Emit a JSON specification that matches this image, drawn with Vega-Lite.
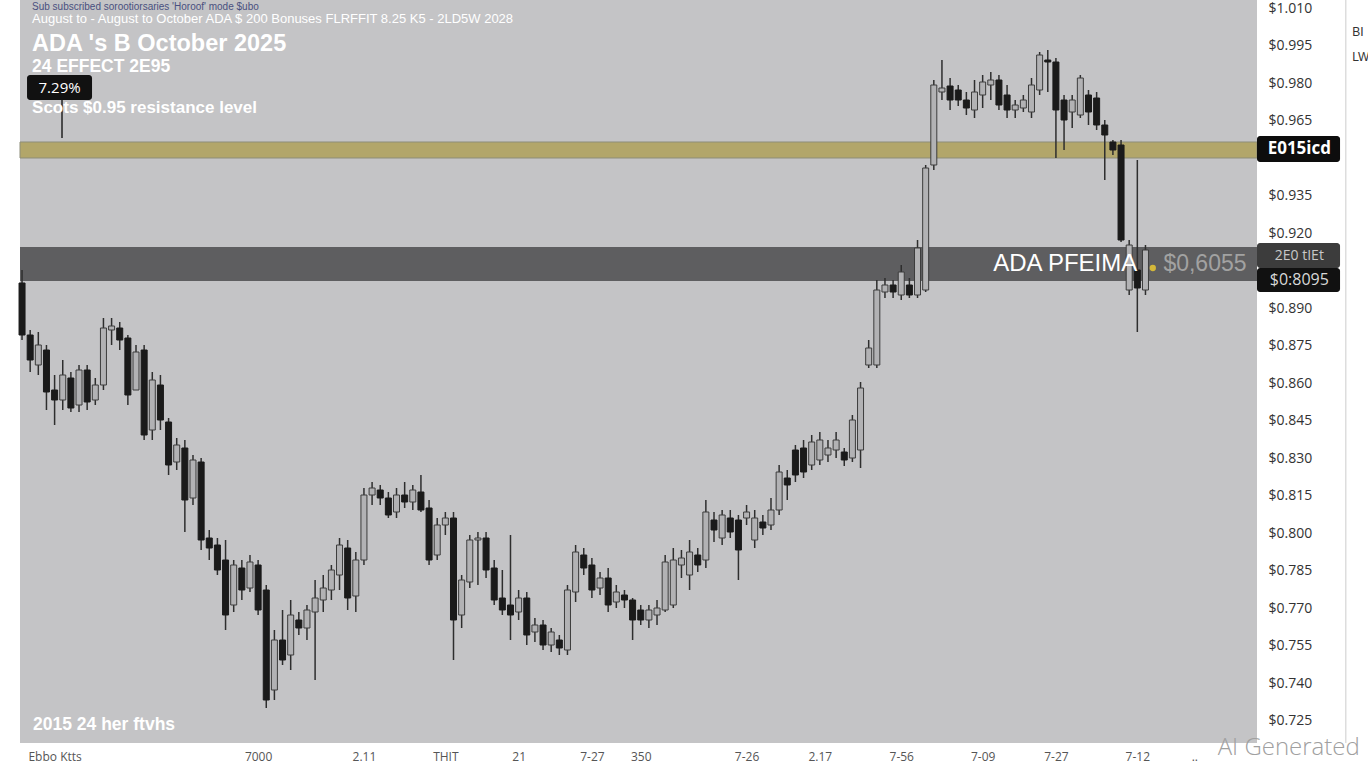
{
  "$schema": "https://vega.github.io/schema/vega-lite/v6.json",
  "width": 1237,
  "height": 743,
  "autosize": {"type": "none"},
  "padding": {"left": 20, "top": 0, "right": 111, "bottom": 25},
  "background": "#ffffff",
  "config": {
    "view": {"stroke": null, "fill": "#c4c4c6"},
    "font": "Open Sans",
    "scale": {"continuousPadding": 0},
    "axis": {"grid": false, "ticks": false, "domain": false, "labelOverlap": false, "labelBound": false, "labelFlush": false, "tickCount": 40}
  },
  "datasets": {
    "candles": [
      {"i":0,"o":0.9000,"h":0.9052,"l":0.8772,"c":0.8792},
      {"i":1,"o":0.8792,"h":0.8812,"l":0.8644,"c":0.8692},
      {"i":2,"o":0.8672,"h":0.8804,"l":0.8632,"c":0.8752},
      {"i":3,"o":0.8732,"h":0.8752,"l":0.8492,"c":0.8564},
      {"i":4,"o":0.8572,"h":0.8632,"l":0.8432,"c":0.8532},
      {"i":5,"o":0.8532,"h":0.8692,"l":0.8492,"c":0.8632},
      {"i":6,"o":0.8620,"h":0.8644,"l":0.8484,"c":0.8500},
      {"i":7,"o":0.8512,"h":0.8672,"l":0.8484,"c":0.8652},
      {"i":8,"o":0.8652,"h":0.8672,"l":0.8492,"c":0.8524},
      {"i":9,"o":0.8532,"h":0.8620,"l":0.8512,"c":0.8592},
      {"i":10,"o":0.8592,"h":0.8860,"l":0.8572,"c":0.8820},
      {"i":11,"o":0.8812,"h":0.8860,"l":0.8752,"c":0.8828},
      {"i":12,"o":0.8820,"h":0.8844,"l":0.8732,"c":0.8772},
      {"i":13,"o":0.8780,"h":0.8792,"l":0.8512,"c":0.8552},
      {"i":14,"o":0.8572,"h":0.8752,"l":0.8604,"c":0.8724},
      {"i":15,"o":0.8732,"h":0.8752,"l":0.8372,"c":0.8392},
      {"i":16,"o":0.8412,"h":0.8644,"l":0.8372,"c":0.8612},
      {"i":17,"o":0.8592,"h":0.8632,"l":0.8412,"c":0.8452},
      {"i":18,"o":0.8444,"h":0.8460,"l":0.8232,"c":0.8272},
      {"i":19,"o":0.8284,"h":0.8380,"l":0.8252,"c":0.8352},
      {"i":20,"o":0.8340,"h":0.8372,"l":0.8004,"c":0.8132},
      {"i":21,"o":0.8140,"h":0.8312,"l":0.8112,"c":0.8292},
      {"i":22,"o":0.8284,"h":0.8300,"l":0.7932,"c":0.7972},
      {"i":23,"o":0.7980,"h":0.8012,"l":0.7892,"c":0.7940},
      {"i":24,"o":0.7952,"h":0.7980,"l":0.7832,"c":0.7852},
      {"i":25,"o":0.7892,"h":0.7972,"l":0.7612,"c":0.7672},
      {"i":26,"o":0.7712,"h":0.7892,"l":0.7684,"c":0.7872},
      {"i":27,"o":0.7860,"h":0.7892,"l":0.7732,"c":0.7772},
      {"i":28,"o":0.7780,"h":0.7912,"l":0.7764,"c":0.7884},
      {"i":29,"o":0.7872,"h":0.7892,"l":0.7672,"c":0.7692},
      {"i":30,"o":0.7772,"h":0.7792,"l":0.7300,"c":0.7332},
      {"i":31,"o":0.7372,"h":0.7612,"l":0.7332,"c":0.7572},
      {"i":32,"o":0.7572,"h":0.7692,"l":0.7472,"c":0.7492},
      {"i":33,"o":0.7512,"h":0.7732,"l":0.7452,"c":0.7672},
      {"i":34,"o":0.7652,"h":0.7684,"l":0.7592,"c":0.7620},
      {"i":35,"o":0.7620,"h":0.7712,"l":0.7572,"c":0.7692},
      {"i":36,"o":0.7684,"h":0.7812,"l":0.7412,"c":0.7740},
      {"i":37,"o":0.7732,"h":0.7832,"l":0.7684,"c":0.7780},
      {"i":38,"o":0.7772,"h":0.7872,"l":0.7732,"c":0.7852},
      {"i":39,"o":0.7832,"h":0.7980,"l":0.7772,"c":0.7952},
      {"i":40,"o":0.7940,"h":0.7972,"l":0.7692,"c":0.7740},
      {"i":41,"o":0.7748,"h":0.7924,"l":0.7684,"c":0.7892},
      {"i":42,"o":0.7892,"h":0.8180,"l":0.7872,"c":0.8152},
      {"i":43,"o":0.8152,"h":0.8204,"l":0.8112,"c":0.8180},
      {"i":44,"o":0.8172,"h":0.8192,"l":0.8112,"c":0.8140},
      {"i":45,"o":0.8140,"h":0.8164,"l":0.8060,"c":0.8072},
      {"i":46,"o":0.8084,"h":0.8180,"l":0.8060,"c":0.8152},
      {"i":47,"o":0.8152,"h":0.8204,"l":0.8100,"c":0.8124},
      {"i":48,"o":0.8124,"h":0.8192,"l":0.8092,"c":0.8172},
      {"i":49,"o":0.8164,"h":0.8232,"l":0.8084,"c":0.8092},
      {"i":50,"o":0.8100,"h":0.8132,"l":0.7872,"c":0.7892},
      {"i":51,"o":0.7912,"h":0.8060,"l":0.7892,"c":0.8032},
      {"i":52,"o":0.8032,"h":0.8084,"l":0.7992,"c":0.8060},
      {"i":53,"o":0.8060,"h":0.8084,"l":0.7492,"c":0.7652},
      {"i":54,"o":0.7672,"h":0.7832,"l":0.7620,"c":0.7812},
      {"i":55,"o":0.7804,"h":0.7992,"l":0.7780,"c":0.7972},
      {"i":56,"o":0.7972,"h":0.8004,"l":0.7792,"c":0.7980},
      {"i":57,"o":0.7980,"h":0.8004,"l":0.7820,"c":0.7852},
      {"i":58,"o":0.7860,"h":0.7892,"l":0.7712,"c":0.7732},
      {"i":59,"o":0.7740,"h":0.7852,"l":0.7672,"c":0.7692},
      {"i":60,"o":0.7712,"h":0.7992,"l":0.7572,"c":0.7672},
      {"i":61,"o":0.7684,"h":0.7772,"l":0.7652,"c":0.7740},
      {"i":62,"o":0.7740,"h":0.7764,"l":0.7552,"c":0.7592},
      {"i":63,"o":0.7604,"h":0.7660,"l":0.7564,"c":0.7632},
      {"i":64,"o":0.7632,"h":0.7652,"l":0.7532,"c":0.7552},
      {"i":65,"o":0.7552,"h":0.7620,"l":0.7524,"c":0.7604},
      {"i":66,"o":0.7572,"h":0.7592,"l":0.7512,"c":0.7540},
      {"i":67,"o":0.7532,"h":0.7792,"l":0.7512,"c":0.7772},
      {"i":68,"o":0.7764,"h":0.7952,"l":0.7724,"c":0.7924},
      {"i":69,"o":0.7912,"h":0.7940,"l":0.7832,"c":0.7860},
      {"i":70,"o":0.7872,"h":0.7900,"l":0.7740,"c":0.7772},
      {"i":71,"o":0.7780,"h":0.7844,"l":0.7752,"c":0.7820},
      {"i":72,"o":0.7820,"h":0.7860,"l":0.7684,"c":0.7712},
      {"i":73,"o":0.7724,"h":0.7792,"l":0.7700,"c":0.7764},
      {"i":74,"o":0.7752,"h":0.7772,"l":0.7700,"c":0.7732},
      {"i":75,"o":0.7732,"h":0.7740,"l":0.7572,"c":0.7652},
      {"i":76,"o":0.7692,"h":0.7712,"l":0.7632,"c":0.7652},
      {"i":77,"o":0.7652,"h":0.7712,"l":0.7620,"c":0.7692},
      {"i":78,"o":0.7672,"h":0.7732,"l":0.7632,"c":0.7700},
      {"i":79,"o":0.7692,"h":0.7912,"l":0.7684,"c":0.7884},
      {"i":80,"o":0.7712,"h":0.7940,"l":0.7700,"c":0.7892},
      {"i":81,"o":0.7872,"h":0.7932,"l":0.7820,"c":0.7900},
      {"i":82,"o":0.7832,"h":0.7972,"l":0.7772,"c":0.7924},
      {"i":83,"o":0.7912,"h":0.7940,"l":0.7844,"c":0.7872},
      {"i":84,"o":0.7892,"h":0.8132,"l":0.7860,"c":0.8084},
      {"i":85,"o":0.8052,"h":0.8084,"l":0.7964,"c":0.8012},
      {"i":86,"o":0.7980,"h":0.8092,"l":0.7952,"c":0.8072},
      {"i":87,"o":0.8060,"h":0.8092,"l":0.7980,"c":0.8004},
      {"i":88,"o":0.8052,"h":0.8072,"l":0.7812,"c":0.7932},
      {"i":89,"o":0.8060,"h":0.8112,"l":0.8032,"c":0.8084},
      {"i":90,"o":0.7972,"h":0.8092,"l":0.7940,"c":0.8060},
      {"i":91,"o":0.8044,"h":0.8072,"l":0.7992,"c":0.8020},
      {"i":92,"o":0.8032,"h":0.8140,"l":0.8012,"c":0.8092},
      {"i":93,"o":0.8092,"h":0.8272,"l":0.8072,"c":0.8244},
      {"i":94,"o":0.8220,"h":0.8252,"l":0.8132,"c":0.8192},
      {"i":95,"o":0.8332,"h":0.8352,"l":0.8204,"c":0.8232},
      {"i":96,"o":0.8340,"h":0.8372,"l":0.8220,"c":0.8244},
      {"i":97,"o":0.8272,"h":0.8392,"l":0.8252,"c":0.8364},
      {"i":98,"o":0.8292,"h":0.8404,"l":0.8272,"c":0.8372},
      {"i":99,"o":0.8312,"h":0.8372,"l":0.8284,"c":0.8340},
      {"i":100,"o":0.8332,"h":0.8404,"l":0.8300,"c":0.8372},
      {"i":101,"o":0.8324,"h":0.8340,"l":0.8268,"c":0.8292},
      {"i":102,"o":0.8300,"h":0.8472,"l":0.8284,"c":0.8452},
      {"i":103,"o":0.8332,"h":0.8604,"l":0.8260,"c":0.8580},
      {"i":104,"o":0.8672,"h":0.8772,"l":0.8660,"c":0.8740},
      {"i":105,"o":0.8672,"h":0.9012,"l":0.8660,"c":0.8972},
      {"i":106,"o":0.8964,"h":0.9020,"l":0.8940,"c":0.8992},
      {"i":107,"o":0.8992,"h":0.9012,"l":0.8940,"c":0.8964},
      {"i":108,"o":0.8952,"h":0.9072,"l":0.8932,"c":0.9044},
      {"i":109,"o":0.8992,"h":0.9020,"l":0.8940,"c":0.8952},
      {"i":110,"o":0.8952,"h":0.9172,"l":0.8940,"c":0.9140},
      {"i":111,"o":0.8972,"h":0.9472,"l":0.8964,"c":0.9460},
      {"i":112,"o":0.9472,"h":0.9812,"l":0.9452,"c":0.9792},
      {"i":113,"o":0.9764,"h":0.9892,"l":0.9732,"c":0.9780},
      {"i":114,"o":0.9788,"h":0.9820,"l":0.9692,"c":0.9732},
      {"i":115,"o":0.9772,"h":0.9792,"l":0.9708,"c":0.9732},
      {"i":116,"o":0.9732,"h":0.9764,"l":0.9672,"c":0.9700},
      {"i":117,"o":0.9692,"h":0.9812,"l":0.9660,"c":0.9764},
      {"i":118,"o":0.9752,"h":0.9832,"l":0.9700,"c":0.9804},
      {"i":119,"o":0.9792,"h":0.9844,"l":0.9732,"c":0.9812},
      {"i":120,"o":0.9812,"h":0.9832,"l":0.9692,"c":0.9712},
      {"i":121,"o":0.9752,"h":0.9792,"l":0.9660,"c":0.9692},
      {"i":122,"o":0.9692,"h":0.9732,"l":0.9660,"c":0.9712},
      {"i":123,"o":0.9700,"h":0.9752,"l":0.9684,"c":0.9732},
      {"i":124,"o":0.9684,"h":0.9820,"l":0.9660,"c":0.9792},
      {"i":125,"o":0.9772,"h":0.9924,"l":0.9752,"c":0.9912},
      {"i":126,"o":0.9892,"h":0.9932,"l":0.9764,"c":0.9884},
      {"i":127,"o":0.9884,"h":0.9900,"l":0.9500,"c":0.9692},
      {"i":128,"o":0.9732,"h":0.9752,"l":0.9532,"c":0.9652},
      {"i":129,"o":0.9684,"h":0.9752,"l":0.9620,"c":0.9732},
      {"i":130,"o":0.9672,"h":0.9832,"l":0.9660,"c":0.9820},
      {"i":131,"o":0.9752,"h":0.9772,"l":0.9632,"c":0.9684},
      {"i":132,"o":0.9740,"h":0.9764,"l":0.9612,"c":0.9632},
      {"i":133,"o":0.9632,"h":0.9652,"l":0.9412,"c":0.9592},
      {"i":134,"o":0.9564,"h":0.9572,"l":0.9512,"c":0.9532},
      {"i":135,"o":0.9552,"h":0.9572,"l":0.9164,"c":0.9172},
      {"i":136,"o":0.8972,"h":0.9172,"l":0.8952,"c":0.9152},
      {"i":137,"o":0.9052,"h":0.9492,"l":0.8804,"c":0.8980},
      {"i":138,"o":0.8972,"h":0.9152,"l":0.8952,"c":0.9132}
    ]
  },
  "layer": [
    {
      "data": {"values": [{"x1": -0.25, "x2": 151.7, "y1": 0.95, "y2": 0.9564}]},
      "mark": {"type": "rect", "fill": "#b2a66a", "stroke": "#8d8d78", "strokeWidth": 1},
      "encoding": {
        "x": {
          "field": "x1", "type": "quantitative",
          "scale": {"domain": [-0.25, 151.7], "nice": false, "zero": false, "padding": 0},
          "axis": {
            "title": null, "labelOverlap": false, "tickCount": 40,
            "values": [4, 29, 42, 52, 61, 70, 76, 89, 98, 108, 118, 127, 137, 144],
            "labelExpr": "datum.value == 4 ? 'Ebbo Ktts' : datum.value == 29 ? '7000' : datum.value == 42 ? '2.11' : datum.value == 52 ? 'THIT' : datum.value == 61 ? '21' : datum.value == 70 ? '7-27' : datum.value == 76 ? '350' : datum.value == 89 ? '7-26' : datum.value == 98 ? '2.17' : datum.value == 108 ? '7-56' : datum.value == 118 ? '7-09' : datum.value == 127 ? '7-27' : datum.value == 137 ? '7-12' : '..'",
            "labelFontSize": 12, "labelColor": "#555555", "labelPadding": 8
          }
        },
        "x2": {"field": "x2"},
        "y": {
          "field": "y1", "type": "quantitative",
          "scale": {"domain": [0.716, 1.0132], "nice": false, "zero": false, "padding": 0},
          "axis": {
            "title": null, "orient": "right", "labelOverlap": false, "tickCount": 40,
            "values": [1.01, 0.995, 0.98, 0.965, 0.935, 0.92, 0.89, 0.875, 0.86, 0.845, 0.83, 0.815, 0.8, 0.785, 0.77, 0.755, 0.74, 0.725],
            "labelExpr": "'$' + format(datum.value, '.3f')",
            "labelFontSize": 14, "labelColor": "#333333", "labelPadding": 11
          }
        },
        "y2": {"field": "y2"}
      }
    },
    {
      "data": {"values": [{"x1": -0.25, "x2": 151.7, "y1": 0.9008, "y2": 0.9144}]},
      "mark": {"type": "rect", "fill": "#5e5e60"},
      "encoding": {
        "x": {"field": "x1", "type": "quantitative", "axis": {"title": null, "labelOverlap": false}},
        "x2": {"field": "x2"},
        "y": {"field": "y1", "type": "quantitative", "axis": {"title": null, "labelOverlap": false}},
        "y2": {"field": "y2"}
      }
    },
    {
      "data": {"name": "candles"},
      "mark": {"type": "rule", "strokeWidth": 1.5, "color": "#2e2e2e"},
      "encoding": {
        "x": {"field": "i", "type": "quantitative", "axis": {"title": null, "labelOverlap": false}},
        "y": {"field": "l", "type": "quantitative", "axis": {"title": null, "labelOverlap": false}},
        "y2": {"field": "h"}
      }
    },
    {
      "data": {"name": "candles"},
      "mark": {"type": "bar", "size": 6, "strokeWidth": 1},
      "encoding": {
        "x": {"field": "i", "type": "quantitative", "axis": {"title": null, "labelOverlap": false}},
        "y": {"field": "o", "type": "quantitative", "axis": {"title": null, "labelOverlap": false}},
        "y2": {"field": "c"},
        "fill": {"condition": {"test": "datum.c > datum.o", "value": "#b2b2b4"}, "value": "#1a1a1a"},
        "stroke": {"condition": {"test": "datum.c > datum.o", "value": "#3c3c3c"}, "value": "#1a1a1a"}
      }
    },
    {
      "data": {"values": [
        {"x1": 0.614, "x2": 8.598, "y1": 0.9732, "y2": 0.9832, "f": "#111111"},
        {"x1": 151.7, "x2": 161.9, "y1": 0.9484, "y2": 0.9588, "f": "#0d0d0d"},
        {"x1": 151.7, "x2": 161.9, "y1": 0.906, "y2": 0.916, "f": "#3c3c3c"},
        {"x1": 151.7, "x2": 161.9, "y1": 0.8964, "y2": 0.906, "f": "#111111"}
      ]},
      "mark": {"type": "rect", "cornerRadius": 3},
      "encoding": {
        "x": {"field": "x1", "type": "quantitative", "axis": {"title": null, "labelOverlap": false}},
        "x2": {"field": "x2"},
        "y": {"field": "y1", "type": "quantitative", "axis": {"title": null, "labelOverlap": false}},
        "y2": {"field": "y2"},
        "fill": {"field": "f", "type": "nominal", "scale": null}
      }
    },
    {
      "data": {"values": [
        {"x": 4.91, "y1": 0.958, "y2": 0.9732, "c": "#222222"},
        {"x": 162.6, "y1": 0.716, "y2": 1.0132, "c": "#dddddd"}
      ]},
      "mark": {"type": "rule", "strokeWidth": 1.5},
      "encoding": {
        "x": {"field": "x", "type": "quantitative", "axis": {"title": null, "labelOverlap": false}},
        "y": {"field": "y1", "type": "quantitative", "axis": {"title": null, "labelOverlap": false}},
        "y2": {"field": "y2"},
        "color": {"field": "c", "type": "nominal", "scale": null}
      }
    },
    {
      "data": {"values": [{"x": 138.9, "y": 0.906}]},
      "mark": {"type": "point", "filled": true, "size": 40, "color": "#d4b83a", "opacity": 1},
      "encoding": {
        "x": {"field": "x", "type": "quantitative", "axis": {"title": null, "labelOverlap": false}},
        "y": {"field": "y", "type": "quantitative", "axis": {"title": null, "labelOverlap": false}}
      }
    },
    {
      "data": {"values": [
        {"x": 1.23, "y": 1.0106, "t": "Sub subscribed sorootiorsaries 'Horoof' mode $ubo", "s": 10, "c": "#4a5080"},
        {"x": 1.23, "y": 1.0056, "t": "August to - August to October ADA $ 200 Bonuses    FLRFFIT 8.25 K5 - 2LD5W 2028", "s": 13, "c": "#ffffff"},
        {"x": 119.3, "y": 0.9076, "t": "ADA PFEIMA", "s": 24, "c": "#ffffff"},
        {"x": 140.2, "y": 0.9076, "t": "$0,6055", "s": 23, "c": "#a2a2a2"},
        {"x": 163.4, "y": 1.0004, "t": "BI", "s": 12, "c": "#333333"},
        {"x": 163.4, "y": 0.9904, "t": "LW", "s": 12, "c": "#333333"}
      ]},
      "mark": {"type": "text", "align": "left", "baseline": "middle", "font": "Liberation Sans"},
      "encoding": {
        "x": {"field": "x", "type": "quantitative", "axis": {"title": null, "labelOverlap": false}},
        "y": {"field": "y", "type": "quantitative", "axis": {"title": null, "labelOverlap": false}},
        "text": {"field": "t"},
        "size": {"field": "s", "type": "quantitative", "scale": null},
        "color": {"field": "c", "type": "nominal", "scale": null}
      }
    },
    {
      "data": {"values": [
        {"x": 1.23, "y": 0.9956, "t": "ADA 's B October 2025", "s": 23.5},
        {"x": 1.23, "y": 0.9864, "t": "24 EFFECT 2E95", "s": 17.5},
        {"x": 1.23, "y": 0.97, "t": "Scots $0.95 resistance level", "s": 17},
        {"x": 1.35, "y": 0.7232, "t": "2015 24 her ftvhs", "s": 17.5}
      ]},
      "mark": {"type": "text", "align": "left", "baseline": "middle", "font": "Liberation Sans", "fontWeight": "bold", "color": "#ffffff"},
      "encoding": {
        "x": {"field": "x", "type": "quantitative", "axis": {"title": null, "labelOverlap": false}},
        "y": {"field": "y", "type": "quantitative", "axis": {"title": null, "labelOverlap": false}},
        "text": {"field": "t"},
        "size": {"field": "s", "type": "quantitative", "scale": null}
      }
    },
    {
      "data": {"values": [
        {"x": 4.61, "y": 0.978, "t": "7.29%", "s": 15, "c": "#ffffff"},
        {"x": 156.9, "y": 0.9108, "t": "2E0 tIEt", "s": 14, "c": "#c8c8c8"},
        {"x": 156.9, "y": 0.9012, "t": "$0:8095", "s": 16, "c": "#d8d8d8"}
      ]},
      "mark": {"type": "text", "align": "center", "baseline": "middle", "font": "Open Sans"},
      "encoding": {
        "x": {"field": "x", "type": "quantitative", "axis": {"title": null, "labelOverlap": false}},
        "y": {"field": "y", "type": "quantitative", "axis": {"title": null, "labelOverlap": false}},
        "text": {"field": "t"},
        "size": {"field": "s", "type": "quantitative", "scale": null},
        "color": {"field": "c", "type": "nominal", "scale": null}
      }
    },
    {
      "data": {"values": [{"x": 156.9, "y": 0.9536, "t": "E015icd"}]},
      "mark": {"type": "text", "align": "center", "baseline": "middle", "font": "Open Sans", "fontWeight": "bold", "fontSize": 17, "color": "#ffffff"},
      "encoding": {
        "x": {"field": "x", "type": "quantitative", "axis": {"title": null, "labelOverlap": false}},
        "y": {"field": "y", "type": "quantitative", "axis": {"title": null, "labelOverlap": false}},
        "text": {"field": "t"}
      }
    },
    {
      "data": {"values": [{"x": 155.6, "y": 0.714, "t": "AI Generated"}]},
      "mark": {"type": "text", "align": "center", "baseline": "middle", "font": "Open Sans", "fontWeight": 300, "fontSize": 24, "color": "#a0a0a0"},
      "encoding": {
        "x": {"field": "x", "type": "quantitative", "axis": {"title": null, "labelOverlap": false}},
        "y": {"field": "y", "type": "quantitative", "axis": {"title": null, "labelOverlap": false}},
        "text": {"field": "t"}
      }
    }
  ]
}
